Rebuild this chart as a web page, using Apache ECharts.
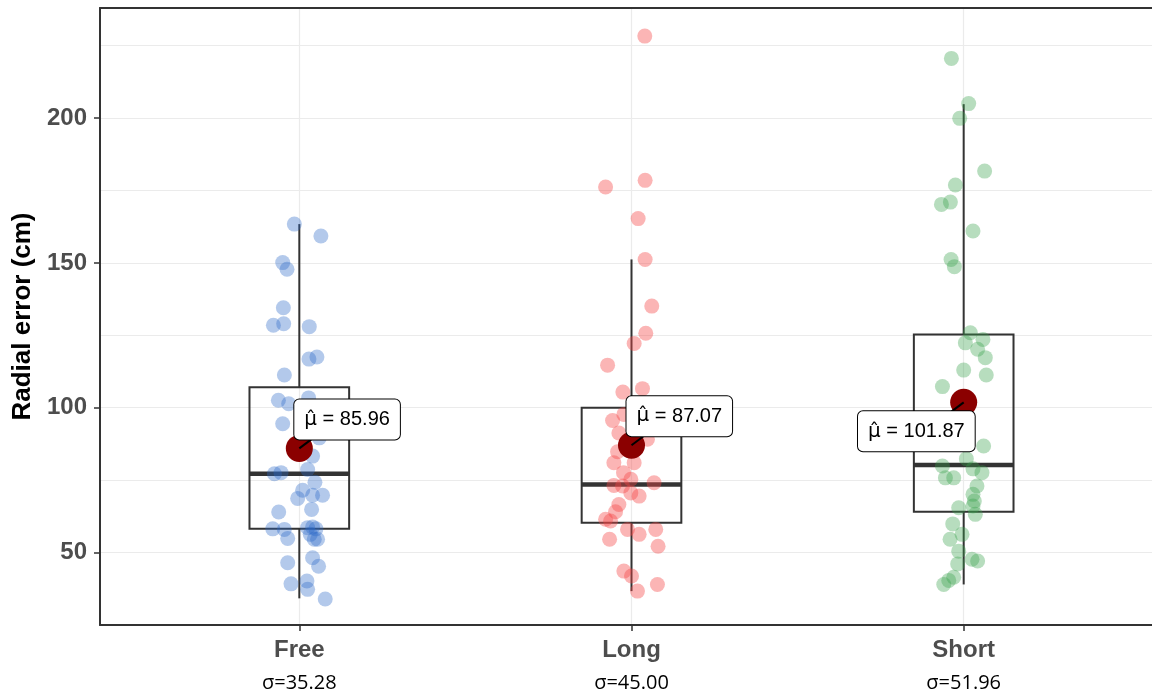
<!DOCTYPE html>
<html><head><meta charset="utf-8">
<script src="https://cdn.jsdelivr.net/npm/echarts@6/dist/echarts.min.js"></script>
<style>html,body{margin:0;padding:0;background:#fff}#c{width:1152px;height:693px}</style>
</head><body><div id="c"></div>
<script>
// ---- data ----
const categories = ['Free', 'Long', 'Short'];
const sigmaLabels = ['σ=35.28', 'σ=45.00', 'σ=51.96'];
const meanValues = [85.96, 87.07, 101.87];
const whiskerLow = [34.2, 36.7, 39.0];
const q1Values = [58.2, 60.3, 64.1];
const medianValues = [77.2, 73.5, 80.2];
const q3Values = [107.1, 100.0, 125.3];
const whiskerHigh = [163.4, 151.2, 204.8];
const yTickValues = [50, 100, 150, 200];
const xTickValues = [1, 2, 3];

const freeX = [0.985,1.065,0.950,0.963,0.952,0.922,0.953,1.030,1.053,1.029,0.955,0.937,0.968,1.028,0.950,1.060,1.040,0.925,0.945,1.025,1.047,1.010,0.995,1.040,1.070,1.037,0.938,0.920,0.955,0.965,1.025,1.040,1.050,1.033,1.045,1.055,0.965,1.040,1.058,0.975,1.023,1.025,1.078];
const freeY = [163.4,159.3,150.1,147.8,134.5,128.5,129.0,128.0,117.5,116.8,111.3,102.6,101.4,103.4,94.5,89.6,83.3,77.2,77.6,78.7,74.3,71.5,68.7,69.8,69.8,64.9,64.0,58.2,58.0,54.9,58.6,58.8,58.2,56.3,54.6,54.6,46.5,48.2,45.3,39.2,40.2,37.3,34.0];

const longX = [2.040,2.041,1.922,2.020,2.041,2.061,2.043,2.008,1.928,2.033,1.974,1.943,1.977,2.048,1.962,1.958,1.947,2.008,1.976,1.998,1.947,2.068,1.973,1.998,2.023,1.962,1.952,1.922,1.937,1.988,2.023,2.073,1.934,2.080,1.977,2.000,2.078,2.018];
const longY = [228.3,178.5,176.2,165.3,151.2,135.1,125.7,122.2,114.7,106.6,105.4,95.6,97.7,89.1,91.3,84.8,81.0,81.0,77.6,75.3,73.2,74.1,73.0,70.6,69.5,66.6,64.1,61.5,60.9,58.0,56.3,58.0,54.6,52.2,43.6,41.9,39.0,36.7];

const shortX = [2.963,3.015,2.988,3.063,2.975,2.960,2.933,3.028,2.962,2.972,3.020,3.005,3.058,3.042,3.065,3.000,3.068,2.936,3.060,3.008,2.936,3.028,3.055,2.945,2.970,3.040,3.028,3.032,3.028,2.985,3.035,2.967,2.995,2.959,2.985,3.025,3.042,2.982,2.970,2.955,2.940];
const shortY = [220.6,205.0,199.9,181.7,176.9,171.0,170.2,161.0,151.2,148.7,125.9,122.4,123.6,120.2,117.3,113.0,111.3,107.3,86.8,82.4,79.9,78.9,77.6,75.8,75.8,73.0,70.1,67.8,66.1,65.5,63.2,59.9,56.3,54.6,50.5,47.7,47.1,46.1,41.5,40.4,39.0];

// ---- chart ----
const zip = (xs, ys) => xs.map((x, i) => [x, ys[i]]);
const FONT = 'Liberation Sans';
const chart = echarts.init(document.getElementById('c'), null, { renderer: 'canvas' });

const gridLine = { show: true, lineStyle: { color: '#ebebeb', width: 1.2 } };
const dark = '#333333';

const option = {
  animation: false,
  backgroundColor: '#ffffff',
  grid: { left: 100, right: -11, top: 8, bottom: 68, outerBoundsMode: 'none' },
  xAxis: [
    {
      type: 'value', min: 0.4, max: 3.6, position: 'bottom',
      axisLine: { show: true, onZero: false, lineStyle: { color: dark, width: 2 } },
      axisTick: { show: true, customValues: xTickValues, length: 6, lineStyle: { color: dark, width: 1.5 } },
      axisLabel: {
        customValues: xTickValues, margin: 9,
        formatter: v => { const i = Math.round(v) - 1; return '{a|' + categories[i] + '}\n{b|' + sigmaLabels[i] + '}'; },
        rich: {
          a: { fontSize: 24, fontWeight: 'bold', color: '#4d4d4d', fontFamily: FONT, lineHeight: 32 },
          b: { fontSize: 20, color: '#000', fontFamily: 'Open Sans', lineHeight: 34 }
        }
      },
      splitLine: gridLine
    },
    {
      type: 'value', min: 0.4, max: 3.6, position: 'top',
      axisLine: { show: true, onZero: false, lineStyle: { color: dark, width: 2 } },
      axisTick: { show: false }, axisLabel: { show: false }, splitLine: { show: false }
    }
  ],
  yAxis: [
    {
      type: 'value', min: 25, max: 238, interval: 25,
      axisLine: { show: false }, axisTick: { show: false }, axisLabel: { show: false },
      splitLine: gridLine
    },
    {
      type: 'value', min: 25, max: 238, position: 'left',
      axisLine: { show: true, onZero: false, lineStyle: { color: dark, width: 2 } },
      axisTick: { show: true, customValues: yTickValues, length: 6, lineStyle: { color: dark, width: 1.5 } },
      axisLabel: { customValues: yTickValues, margin: 13, fontSize: 24, fontWeight: 'bold', color: '#4d4d4d', fontFamily: FONT },
      splitLine: { show: false },
      name: 'Radial error (cm)', nameLocation: 'middle', nameGap: 64,
      nameTextStyle: { fontSize: 26, fontWeight: 'bold', color: '#000', fontFamily: FONT }
    }
  ],
  series: [
    {
      type: 'custom', name: 'box', xAxisIndex: 0, yAxisIndex: 0, z: 2,
      data: categories.map((c, i) => [xTickValues[i], whiskerLow[i], q1Values[i], medianValues[i], q3Values[i], whiskerHigh[i]]),
      encode: { x: 0, y: [1, 2, 3, 4, 5] },
      renderItem: (params, api) => {
        const x = api.value(0);
        const pLow = api.coord([x, api.value(1)]);
        const pQ1 = api.coord([x, api.value(2)]);
        const pMed = api.coord([x, api.value(3)]);
        const pQ3 = api.coord([x, api.value(4)]);
        const pHigh = api.coord([x, api.value(5)]);
        const left = api.coord([x - 0.15, api.value(3)])[0];
        const right = api.coord([x + 0.15, api.value(3)])[0];
        const st = { stroke: dark, lineWidth: 2, fill: null };
        return { type: 'group', children: [
          { type: 'line', shape: { x1: pHigh[0], y1: pHigh[1], x2: pQ3[0], y2: pQ3[1] }, style: st },
          { type: 'line', shape: { x1: pLow[0], y1: pLow[1], x2: pQ1[0], y2: pQ1[1] }, style: st },
          { type: 'rect', shape: { x: left, y: pQ3[1], width: right - left, height: pQ1[1] - pQ3[1] }, style: { stroke: dark, lineWidth: 2, fill: 'rgba(0,0,0,0)' } },
          { type: 'line', shape: { x1: left, y1: pMed[1], x2: right, y2: pMed[1] }, style: { stroke: dark, lineWidth: 4.5 } }
        ] };
      }
    },
    { type: 'scatter', name: 'Free', z: 3, symbolSize: 15, data: zip(freeX, freeY), itemStyle: { color: 'rgba(45,105,200,0.45)' } },
    { type: 'scatter', name: 'Long', z: 3, symbolSize: 15, data: zip(longX, longY), itemStyle: { color: 'rgba(245,70,70,0.5)' } },
    { type: 'scatter', name: 'Short', z: 3, symbolSize: 15, data: zip(shortX, shortY), itemStyle: { color: 'rgba(55,160,75,0.45)' } },
    { type: 'scatter', name: 'mean', z: 4, symbolSize: 27, data: zip(xTickValues, meanValues), itemStyle: { color: '#8B0000', opacity: 1 } },
    {
      type: 'custom', name: 'meanLabel', z: 5, xAxisIndex: 0, yAxisIndex: 0,
      data: zip(xTickValues, meanValues),
      renderItem: (params, api) => {
        const i = params.dataIndex;
        const c = api.coord([api.value(0), api.value(1)]);
        const up = i < 2;
        const end = up ? [c[0] + 16, c[1] - 12] : [c[0] - 16, c[1] + 12];
        return { type: 'group', children: [
          { type: 'line', shape: { x1: c[0], y1: c[1], x2: end[0], y2: end[1] }, style: { stroke: '#000', lineWidth: 2 } },
          { type: 'text', x: up ? c[0] - 5 : c[0] + 11, y: up ? c[1] - 9 : c[1] + 9,
            style: { text: '{m|μ\u0302} = ' + api.value(1).toFixed(2), align: up ? 'left' : 'right', verticalAlign: up ? 'bottom' : 'top',
              font: '20px "Liberation Sans"', fill: '#000', backgroundColor: '#fff', borderColor: '#000', borderWidth: 1,
              borderRadius: 5, padding: [9, 10],
              rich: { m: { fontFamily: 'DejaVu Sans', fontSize: 20, fill: '#000', lineHeight: 22 } } } }
        ] };
      }
    }
  ]
};
chart.setOption(option);
</script>
</body></html>
